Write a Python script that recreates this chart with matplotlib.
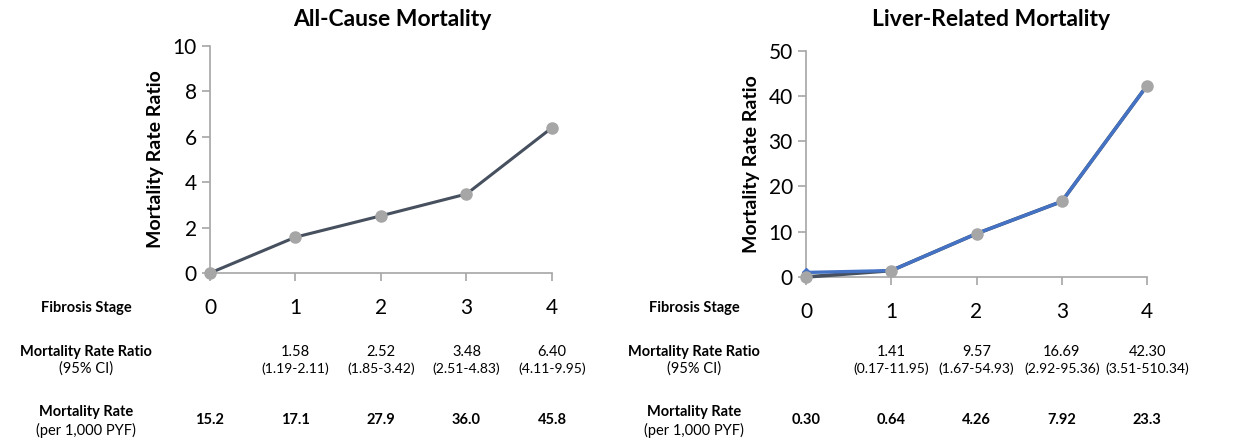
import matplotlib.pyplot as plt
from matplotlib.transforms import blended_transform_factory

plt.rcParams['font.family'] = ['Lato', 'DejaVu Sans']

stages = [0, 1, 2, 3, 4]

# all-cause mortality
allcause_mrr = [0, 1.58, 2.52, 3.48, 6.40]
allcause_ci = ['', '(1.19-2.11)', '(1.85-3.42)', '(2.51-4.83)', '(4.11-9.95)']
allcause_rate = ['15.2', '17.1', '27.9', '36.0', '45.8']

# liver-related mortality
liver_mrr = [0, 1.41, 9.57, 16.69, 42.30]
liver_mrr_blue = [1.0, 1.41, 9.57, 16.69, 42.30]
liver_ci = ['', '(0.17-11.95)', '(1.67-54.93)', '(2.92-95.36)', '(3.51-510.34)']
liver_rate = ['0.30', '0.64', '4.26', '7.92', '23.3']

dark = '#46505e'
grey_pt = '#a6a6a6'
blue = '#4472c4'
spine = '#a6a6a6'

fig = plt.figure(figsize=(12.46, 4.40), dpi=100)
ax1 = fig.add_axes([0.1685, 0.3795, 0.2745, 0.516])
ax2 = fig.add_axes([0.6469, 0.3705, 0.2737, 0.5143])


def style_axes(ax, ymax, ystep):
    ax.set_xlim(0, 4)
    ax.set_ylim(0, ymax)
    ax.set_xticks(stages)
    ax.set_yticks(range(0, ymax + 1, ystep))
    for s in ['top', 'right']:
        ax.spines[s].set_visible(False)
    for s in ['left', 'bottom']:
        ax.spines[s].set_color(spine)
        ax.spines[s].set_linewidth(1.2)
    ax.tick_params(axis='both', colors=spine, labelcolor='black', labelsize=15,
                   length=6, width=1.2)
    ax.tick_params(axis='x', pad=12)
    ax.set_ylabel('Mortality Rate Ratio', fontsize=14, fontweight='bold', labelpad=6)


ax1.plot(stages, allcause_mrr, color=dark, lw=2.2, marker='o', ms=8,
         mfc=grey_pt, mec=grey_pt, clip_on=False, zorder=3)
style_axes(ax1, 10, 2)

# dark line underneath, blue line over it, grey points on top
ax2.plot(stages, liver_mrr, color=dark, lw=2.6, clip_on=False, zorder=3)
ax2.plot(stages, liver_mrr_blue, color=blue, lw=2.4, marker='D', ms=4,
         mfc=blue, mec=blue, clip_on=False, zorder=4)
ax2.plot(stages, liver_mrr, ls='none', marker='o', ms=8,
         mfc=grey_pt, mec=grey_pt, clip_on=False, zorder=5)
style_axes(ax2, 50, 10)

fig.text(392 / 1246, 1 - 20 / 440, 'All-Cause Mortality', ha='center', va='center',
         fontsize=16.5, fontweight='bold')
fig.text(991 / 1246, 1 - 20 / 440, 'Liver-Related Mortality', ha='center', va='center',
         fontsize=16.5, fontweight='bold')


def table(ax, label_x, ratio, ci, rate, ratio_txt):
    tr = blended_transform_factory(ax.transData, fig.transFigure)
    fy = lambda py: 1 - py / 440
    fig.text(label_x / 1246, fy(308), 'Fibrosis Stage', ha='center', va='center',
             fontsize=10.5, fontweight='bold')
    fig.text(label_x / 1246, fy(352), 'Mortality Rate Ratio', ha='center', va='center',
             fontsize=10.5, fontweight='bold')
    fig.text(label_x / 1246, fy(369), '(95% CI)', ha='center', va='center', fontsize=10.5)
    fig.text(label_x / 1246, fy(412), 'Mortality Rate', ha='center', va='center',
             fontsize=10.5, fontweight='bold')
    fig.text(label_x / 1246, fy(430), '(per 1,000 PYF)', ha='center', va='center',
             fontsize=10.5)
    for s, v, c, r in zip(stages, ratio, ci, rate):
        if s > 0:
            ax.text(s, fy(352), ratio_txt(v), transform=tr, ha='center', va='center',
                    fontsize=10.5)
            ax.text(s, fy(369), c, transform=tr, ha='center', va='center', fontsize=10)
        ax.text(s, fy(420), r, transform=tr, ha='center', va='center', fontsize=10.5,
                fontweight='bold')


table(ax1, 86, allcause_mrr, allcause_ci, allcause_rate, lambda v: f'{v:.2f}')
table(ax2, 694, liver_mrr, liver_ci, liver_rate, lambda v: f'{v:.2f}')

fig.savefig('out.png', dpi=100, facecolor='white')
